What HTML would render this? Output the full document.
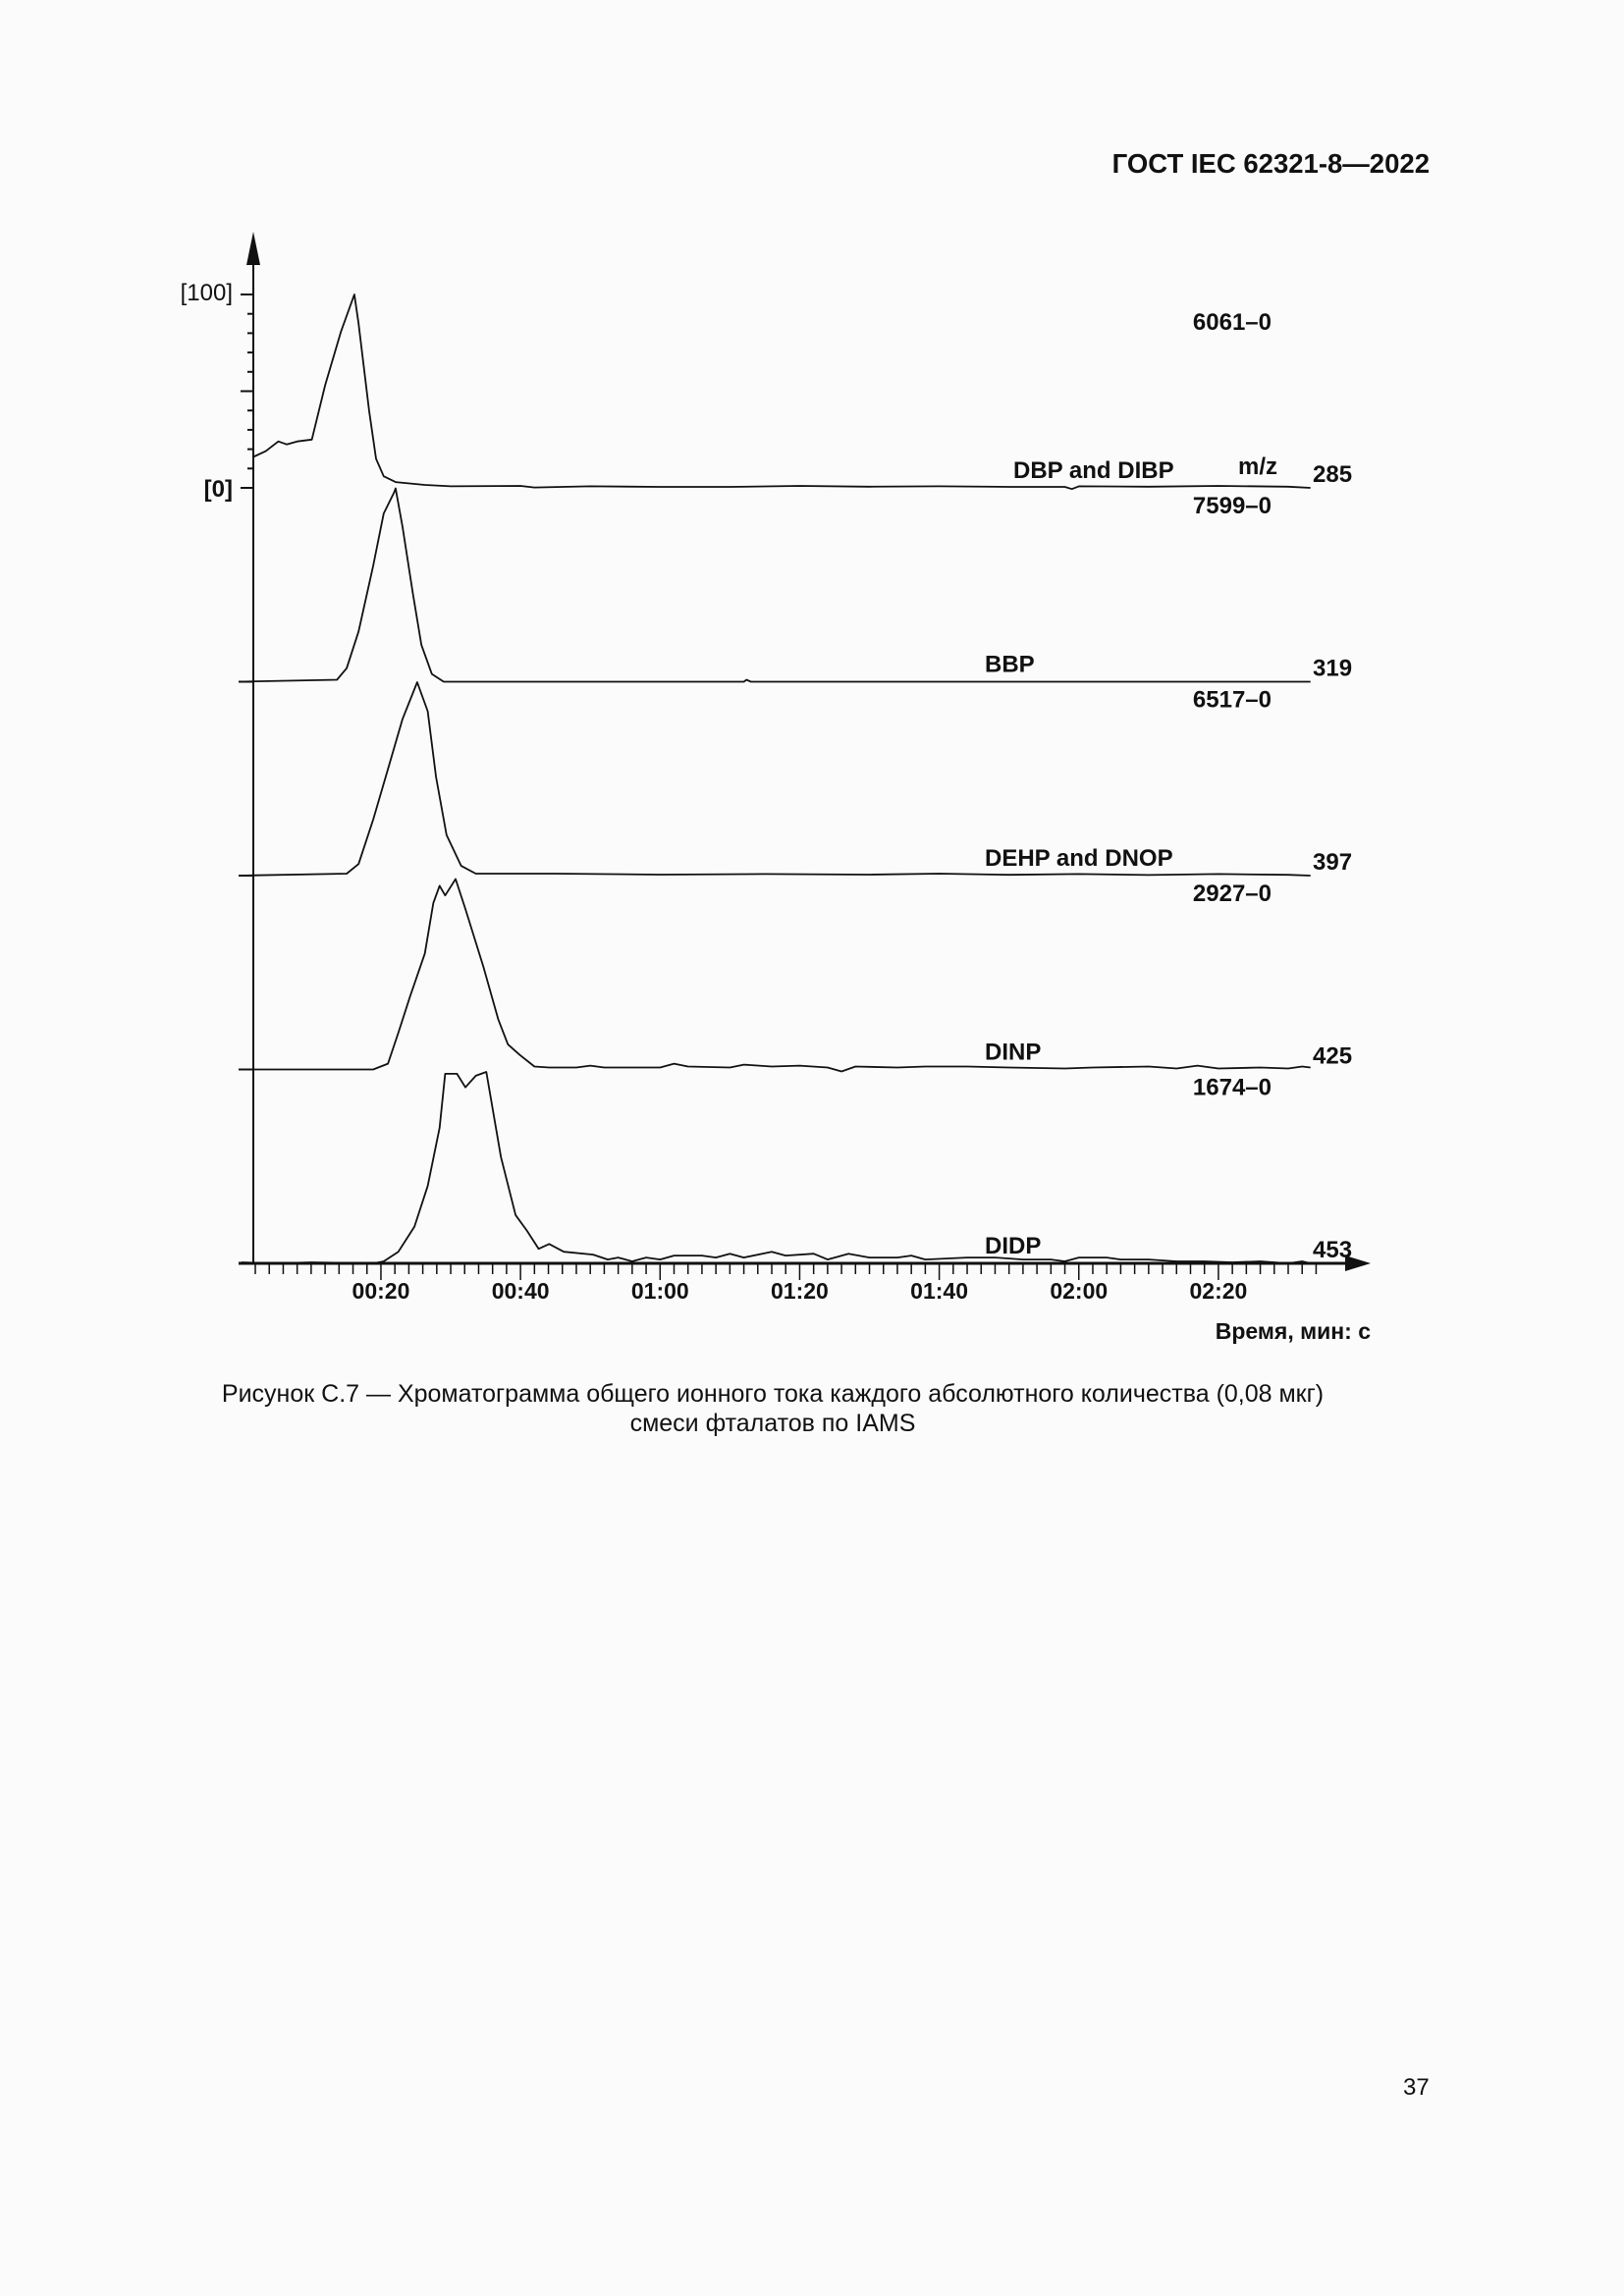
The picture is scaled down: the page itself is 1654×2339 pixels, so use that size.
<!DOCTYPE html>
<html><head><meta charset="utf-8">
<style>
html,body{margin:0;padding:0;background:#fbfbfb;}
body{width:1654px;height:2339px;position:relative;overflow:hidden;font-family:"Liberation Sans",Arial,sans-serif;}
.t{position:absolute;white-space:nowrap;color:#111;}
</style></head>
<body>
<div class="t" style="right:198px;top:151px;font-size:27.5px;font-weight:bold;">ГОСТ IEC 62321-8—2022</div>
<svg id="chart" width="1654" height="1400" style="position:absolute;left:0;top:0;" font-family="Liberation Sans, Arial, sans-serif"></svg>
<div class="t" style="left:0;width:1574px;text-align:center;top:1406px;font-size:25px;">Рисунок С.7 — Хроматограмма общего ионного тока каждого абсолютного количества (0,08 мкг)</div>
<div class="t" style="left:0;width:1574px;text-align:center;top:1436px;font-size:25px;">смеси фталатов по IAMS</div>
<div class="t" style="left:1429px;top:2113px;font-size:24px;">37</div>
<script>
// data: [time s, % intensity]
const traceNames=["DBP and DIBP","BBP","DEHP and DNOP","DINP","DIDP"];
const traceMz=["285","319","397","425","453"];
const traceRange=["6061\u20130","7599\u20130","6517\u20130","2927\u20130","1674\u20130"];
const dbp=[[1.7,16],[3.5,19],[5.3,24],[6.5,22.5],[8,24],[10.1,25],[12,53],[14.3,81],[16.2,100],[16.8,85],[18.3,40],[19.3,15],[20.4,6],[22.1,3],[26.3,1.5],[30,0.8],[40,1],[42,0.2],[50,0.8],[60,0.5],[70,0.5],[80,1],[90,0.6],[100,0.8],[110,0.5],[118,0.5],[119,-0.6],[120,0.8],[130,0.6],[140,1],[150,0.6],[153.2,0]];
const bbp=[[-0.4,0],[13.7,1],[15.1,7],[16.8,26],[18.9,60],[20.4,87],[21.9,98],[22.1,100],[23.1,80],[24.6,45],[25.8,19],[27.3,4],[29,0],[72,0],[72.4,1],[73,0],[153.2,0]];
const dehp=[[-0.4,0],[15.1,1],[16.8,6],[18.9,29],[21,55],[23.1,81],[25.2,100],[26.7,85],[27.9,51],[29.4,21],[31.5,5],[33.6,1],[45,1],[60,0.5],[75,0.8],[90,0.5],[100,1],[110,0.4],[120,0.8],[130,0.3],[140,0.8],[150,0.4],[153.2,0]];
const dinp=[[-0.4,0],[18.9,0],[21,3],[22.5,19],[24.2,38],[26.3,60],[27.5,86],[28.4,95],[29.2,90],[30.7,98.5],[32.1,83],[34.7,53],[36.8,26],[38.2,13],[39.9,7.5],[42,1.5],[44.1,1],[48,1],[50,2],[52,1],[60,1],[62,3],[64,1.5],[70,1],[72,2.5],[76,1.5],[80,2],[84,1],[86,-1],[88,1.5],[94,1],[98,1.5],[104,1.5],[110,1],[118,0.5],[122,1],[130,1.5],[134,0.5],[137,2],[140,0.5],[146,1],[150,0.5],[152,1.5],[153.2,1]];
const didp=[[0,0.5],[5,0],[10,0.5],[19,0],[20.4,1],[22.5,6],[24.8,19],[26.7,40],[28.4,70],[29.2,98],[30.9,98],[32.1,91],[33.6,97],[35.1,99],[37.2,55],[39.3,25],[40.9,17],[42.6,7.5],[44.1,10],[46.2,6],[50.4,4.5],[52.5,2],[54,3],[56,1],[58,3],[60,2],[62,4],[66,4],[68,3],[70,5],[72,3],[76,6],[78,4],[82,5],[84,2],[87,5],[90,3],[94,3],[96,4],[98,2],[104,3],[108,3],[112,2],[116,2],[118,1],[120,3],[124,3],[126,2],[130,2],[134,1],[138,1],[142,0.5],[146,1],[150,0],[152,1],[153.2,0]];
const traceData=[dbp,bbp,dehp,dinp,didp];
const xTickLabels=["00:20","00:40","01:00","01:20","01:40","02:00","02:20"];
const xTickValues=[20,40,60,80,100,120,140];

const NS="http://www.w3.org/2000/svg";
const svg=document.getElementById('chart');
const X0=245.8,PX=7.108;
function xs(t){return X0+t*PX;}
const base0=497,SP=197.5,H=197;
function ys(i,v){return base0+i*SP - v/100*H;}
function mk(tag,attrs,parent){const e=document.createElementNS(NS,tag);for(const k in attrs)e.setAttribute(k,attrs[k]);(parent||svg).appendChild(e);return e;}
function txt(s,x,y,size,anchor,weight){const e=mk('text',{x:x,y:y,'font-size':size,'text-anchor':anchor||'start','font-weight':weight||'bold',fill:'#111'});e.textContent=s;return e;}

const ya=mk('line',{x1:258,y1:262,x2:258,y2:1287,stroke:'#111','stroke-width':2});


const ar=mk('polygon',{points:'258,236 251,270 265,270',fill:'#111'});


for(let k=0;k<=10;k++){const y=ys(0,k*10);const long=(k%5==0);
 const tk=mk('line',{x1:long?245:252,y1:y,x2:258,y2:y,stroke:'#111','stroke-width':2});
 
 }
let yl=txt('[100]',237,306,24,'end','normal');


yl=txt('[0]',237,506,24,'end','bold');



for(let i=1;i<4;i++){const y=base0+i*SP;const s=mk('line',{x1:243,y1:y,x2:258,y2:y,stroke:'#111','stroke-width':2});
 
 }

const xa=mk('line',{x1:243,y1:1287,x2:1380,y2:1287,stroke:'#111','stroke-width':3});


const xar=mk('polygon',{points:'1396,1287 1370,1279 1370,1295',fill:'#111'});


for(let t=2;t<=154;t+=2){const major=xTickValues.indexOf(t)>=0;
 const tk=mk('line',{x1:xs(t),y1:1287,x2:xs(t),y2:major?1304:1298,stroke:'#111','stroke-width':1.5});
 
 }
xTickLabels.forEach((l,j)=>{const e=txt(l,xs(xTickValues[j]),1323,23,'middle','bold');
 
 });
const xt=txt('Время, мин: с',1396,1364,23,'end','bold');



traceData.forEach((d,i)=>{
 const pts=d.map(p=>xs(p[0]).toFixed(1)+','+ys(i,p[1]).toFixed(1)).join(' ');
 const pl=mk('polyline',{points:pts,fill:'none',stroke:'#111','stroke-width':1.8,'stroke-linejoin':'round'});
 
 
 const b=base0+i*SP;
 const n=txt(traceNames[i],i==0?1032:1003,b-10,24,'start','bold');
 
 
 const m=txt(traceMz[i],1337,b-6,24,'start','bold');
 
 
 const r=txt(traceRange[i],1295,i==0?336:b-SP+26,24,'end','bold');
 
 
});
const mz=txt('m/z',1261,483,24,'start','bold');


</script>
</body></html>
